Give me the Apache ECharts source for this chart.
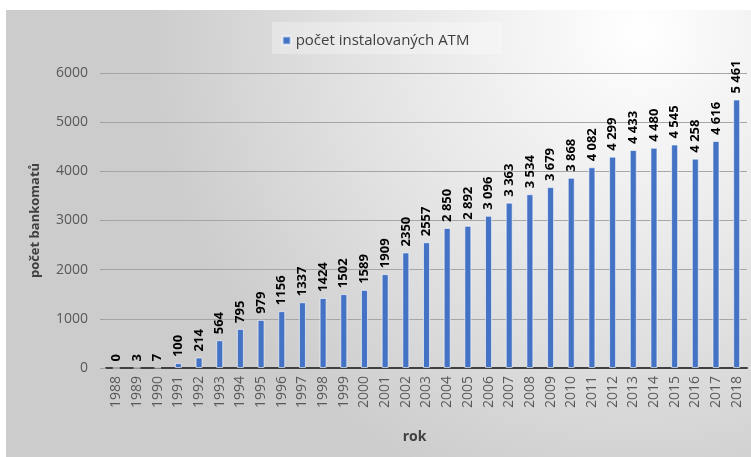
<!DOCTYPE html>
<html>
<head>
<meta charset="utf-8">
<script src="https://cdn.jsdelivr.net/npm/echarts@6/dist/echarts.min.js"></script>
<style>
html,body{margin:0;padding:0;background:#fff;}
#chart{width:751px;height:457px;}
</style>
</head>
<body>
<div id="chart"></div>
<script>
// Years on the category axis
const years = ['1988','1989','1990','1991','1992','1993','1994','1995','1996','1997','1998','1999','2000',
  '2001','2002','2003','2004','2005','2006','2007','2008','2009','2010','2011','2012','2013','2014','2015',
  '2016','2017','2018'];
// Installed ATMs per year
const atmCounts = [0,3,7,100,214,564,795,979,1156,1337,1424,1502,1589,1909,2350,2557,2850,2892,3096,3363,
  3534,3679,3868,4082,4299,4433,4480,4545,4258,4616,5461];
// From this year on the labels use a space as thousands separator
const spacedFromYear = 2004;
const yTicks = [0,1000,2000,3000,4000,5000,6000];

const FONT = '"Open Sans", "Liberation Sans", sans-serif';
const chart = echarts.init(document.getElementById('chart'), null, {renderer: 'canvas'});

function fmtLabel(p) {
  const v = p.value;
  if (+years[p.dataIndex] >= spacedFromYear && v >= 1000) {
    return Math.floor(v / 1000) + ' ' + String(v % 1000).padStart(3, '0');
  }
  return String(v);
}

chart.setOption({
  animation: false,
  backgroundColor: '#ffffff',
  graphic: [{
    type: 'rect',
    z: -10,
    shape: {x: 6, y: 10, width: 745, height: 447},
    style: {
      fill: new echarts.graphic.RadialGradient(0.85, 0.05, 1.1, [
        {offset: 0, color: '#ffffff'},
        {offset: 0.55, color: '#e4e4e4'},
        {offset: 1, color: '#cccccc'}
      ])
    }
  }, {
    type: 'rect',
    z: -5,
    shape: {x: 272, y: 22, width: 230, height: 32},
    style: {fill: 'rgba(255,255,255,0.3)'}
  }],
  legend: {
    top: 28,
    left: 'center',
    itemWidth: 8,
    itemHeight: 8,
    itemGap: 6,
    icon: 'rect',
    textStyle: {fontFamily: FONT, fontSize: 15, color: '#404040'},
    data: ['počet instalovaných ATM']
  },
  grid: {left: 106, right: 4, top: 73, bottom: 89, containLabel: false},
  xAxis: {
    type: 'category',
    data: years,
    name: 'rok',
    nameLocation: 'middle',
    nameGap: 62,
    nameTextStyle: {fontFamily: FONT, fontSize: 14, fontWeight: 'bold', color: '#404040', padding: [0, 24, 0, 0]},
    axisLine: {lineStyle: {color: '#404040', width: 2}},
    axisTick: {show: false},
    axisLabel: {rotate: 90, fontFamily: FONT, fontSize: 14, color: '#595959', margin: 8}
  },
  yAxis: {
    type: 'value',
    min: 0,
    max: 6000,
    interval: 1000,
    name: 'počet bankomatů',
    nameLocation: 'middle',
    nameGap: 64,
    nameTextStyle: {fontFamily: FONT, fontSize: 13, fontWeight: 'bold', color: '#404040'},
    axisLine: {show: false},
    axisTick: {show: true, inside: false, length: 6, lineStyle: {color: '#a0a0a0'}},
    splitLine: {lineStyle: {color: '#a6a6a6', width: 1}},
    axisLabel: {
      fontFamily: FONT, fontSize: 14, color: '#595959', margin: 18,
      formatter: v => yTicks.includes(v) ? String(v) : ''
    }
  },
  series: [{
    name: 'počet instalovaných ATM',
    type: 'bar',
    data: atmCounts,
    barWidth: 7,
    itemStyle: {color: '#4472c4', borderColor: 'rgba(255,255,255,0.6)', borderWidth: 1},
    label: {
      show: true,
      position: 'top',
      rotate: 90,
      align: 'left',
      verticalAlign: 'middle',
      distance: 6,
      fontFamily: FONT,
      fontSize: 13,
      fontWeight: 'bold',
      color: '#000000',
      formatter: fmtLabel
    }
  }]
});
</script>
</body>
</html>
